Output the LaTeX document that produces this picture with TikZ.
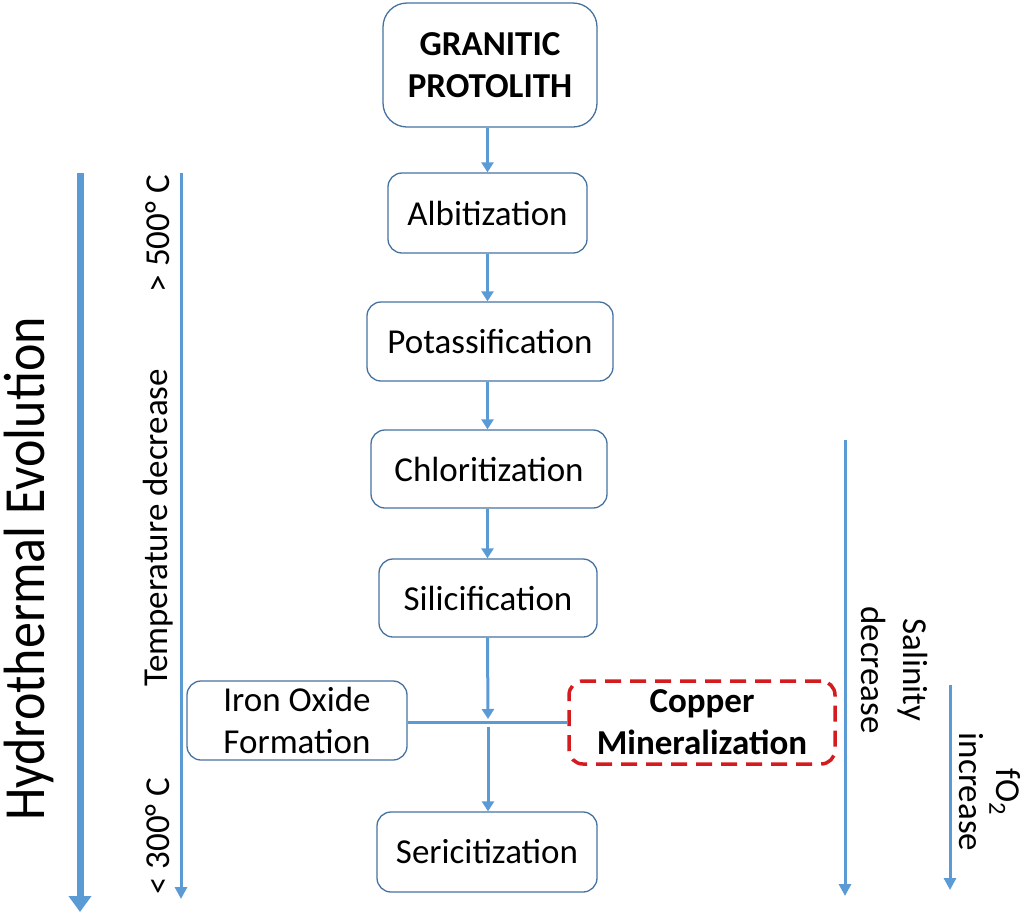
\documentclass[tikz,border=0pt]{standalone}
\usepackage{fontspec}
\setmainfont{Carlito}
\usetikzlibrary{arrows.meta,positioning}
\definecolor{flowblue}{RGB}{91,155,213}
\definecolor{edgeblue}{RGB}{70,114,160}
\definecolor{mineralred}{RGB}{212,28,32}

\begin{document}
\begin{tikzpicture}[x=1pt, y=-1pt, font=\fontsize{35}{42}\selectfont,
  stage/.style={draw=edgeblue, line width=1.3pt, rounded corners=14pt, fill=white, align=center, inner sep=0pt},
  flow/.style={-{Triangle[width=12pt,length=10pt]}, line width=3pt, draw=flowblue},
  link/.style={line width=3pt, draw=flowblue},
  trend/.style={-{Triangle[width=12pt,length=12pt]}, line width=3pt, draw=flowblue},
  label/.style={inner sep=0pt, align=center}]
\useasboundingbox (0,0) rectangle (1034,914);
% alteration sequence
\node[stage, rounded corners=24pt, minimum width=214pt, minimum height=124pt, font=\fontsize{35}{42}\selectfont\bfseries] (protolith) at (490,65) {GRANITIC\\PROTOLITH};
\node[stage, minimum width=199pt, minimum height=80pt] (albite) at (487.5,213) {Albitization};
\node[stage, minimum width=246pt, minimum height=79pt] (potassic) at (490,341.5) {Potassification};
\node[stage, minimum width=236pt, minimum height=78pt] (chlorite) at (489,469) {Chloritization};
\node[stage, minimum width=218pt, minimum height=78pt] (silica) at (488,598) {Silicification};
\node[stage, minimum width=220pt, minimum height=79pt] (ironox) at (297,720.5) {Iron Oxide\\Formation};
\node[stage, draw=mineralred, line width=3.5pt, dash pattern=on 16pt off 9pt, minimum width=266pt, minimum height=83pt, font=\fontsize{35}{42}\selectfont\bfseries] (copper) at (702,722.5) {Copper\\Mineralization};
\node[stage, minimum width=220pt, minimum height=80pt] (sericite) at (487,852) {Sericitization};
\coordinate (junction) at (488,719);
\coordinate (crossing) at (488,722);
\coordinate (split) at (488,727);
\draw[flow] (protolith.south -| albite.north) -- (albite.north);
\draw[flow] (albite) -- (albite |- potassic.north);
\draw[flow] (albite |- potassic.south) -- (albite |- chlorite.north);
\draw[flow] (albite |- chlorite.south) -- (albite |- silica.north);
\draw[flow] (albite |- silica.south) -- (junction);
\draw[link] (ironox.east |- crossing) -- (copper.west |- crossing);
\draw[flow] (split) -- (split |- sericite.north);
% trends
\coordinate (evoltop) at (80,173);
\coordinate (evolend) at (80,912);
\coordinate (temptop) at (181,173);
\coordinate (tempend) at (181,899);
\coordinate (salttop) at (845,440);
\coordinate (saltend) at (845,896);
\coordinate (oxtop) at (950,685);
\coordinate (oxend) at (950,890);
\draw[trend, line width=7pt, -{Triangle[width=22pt,length=16pt]}] (evoltop) -- (evolend);
\draw[trend] (temptop) -- (tempend);
\draw[trend] (salttop) -- (saltend);
\draw[trend] (oxtop) -- (oxend);
\node[label, rotate=90, anchor=base, font=\fontsize{52}{60}\selectfont] (evolution) at (45,569) {\scalebox{1}[1.12]{Hydrothermal Evolution}};
\node[label, rotate=90] (tempdrop) at (158,528) {Temperature decrease};
\node[label, rotate=90, anchor=east] (hightemp) at (158,175) {> 500° C};
\node[label, rotate=90, anchor=west] (lowtemp) at (158,895) {< 300° C};
\node[label, rotate=-90] (salinity) at (895,670) {Salinity\\decrease};
\node[label, rotate=-90, font=\fontsize{35}{37}\selectfont] (oxygen) at (990,792) {f\kern1ptO\textsubscript{2}\\increase};
\end{tikzpicture}
\end{document}
